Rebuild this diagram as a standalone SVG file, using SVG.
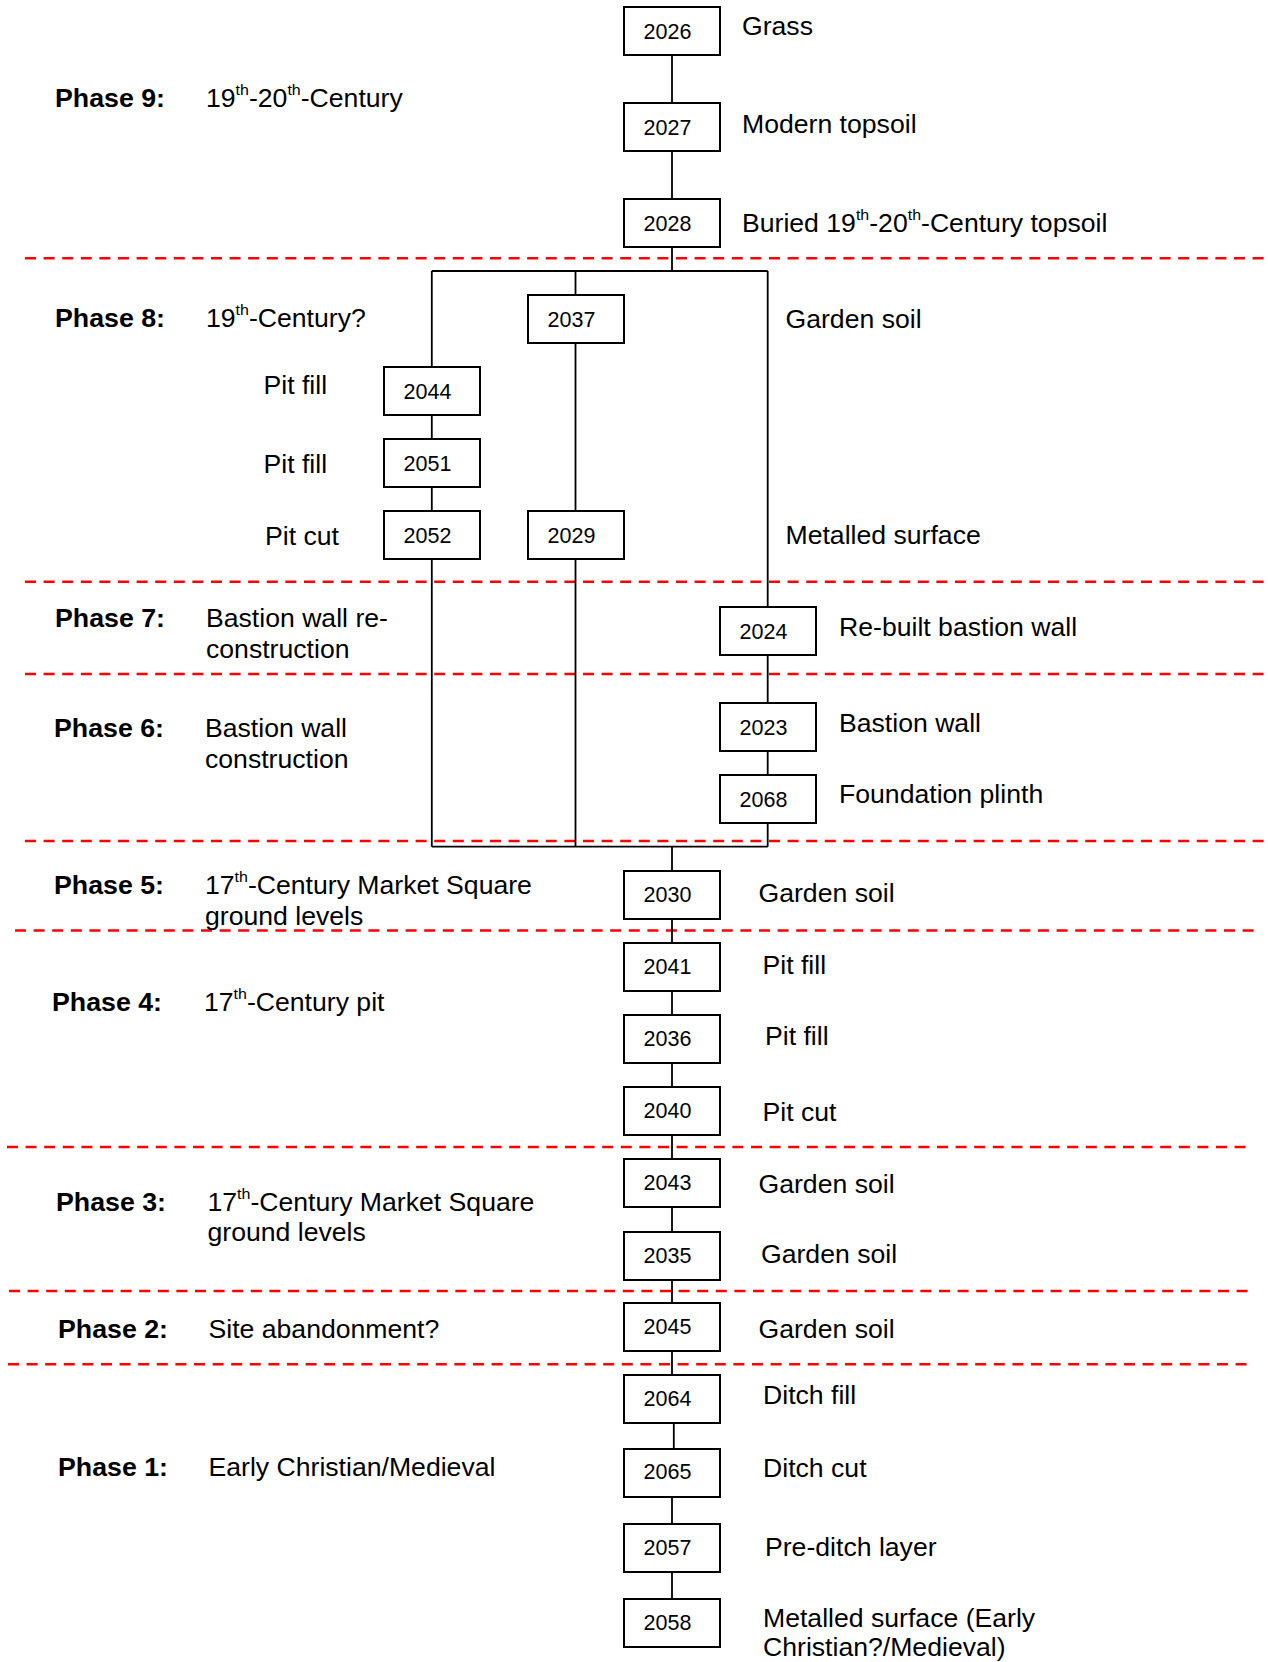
<svg xmlns="http://www.w3.org/2000/svg" width="1268" height="1662" viewBox="0 0 1268 1662">
<style>
text{font-family:"Liberation Sans",Arial,sans-serif;fill:#000}
.lbl{font-size:25px}
.ph{font-size:25px;font-weight:bold}
.num{font-size:21.5px;text-anchor:middle}
.sup{font-size:15px}
.box{fill:#fff;stroke:#000;stroke-width:2}
.con{stroke:#000;stroke-width:1.8;fill:none}
.dash{stroke:#ff0000;stroke-width:2.6;stroke-dasharray:11 7.6;fill:none}
</style>
<g id="phase-lines">
<line class="dash" x1="25" y1="258.3" x2="1268" y2="258.3"/>
<line class="dash" x1="25" y1="581.7" x2="1268" y2="581.7"/>
<line class="dash" x1="25" y1="674" x2="1268" y2="674"/>
<line class="dash" x1="25" y1="841" x2="1268" y2="841"/>
<line class="dash" x1="15" y1="930.5" x2="1260" y2="930.5"/>
<line class="dash" x1="7" y1="1147" x2="1251" y2="1147"/>
<line class="dash" x1="9" y1="1291" x2="1251" y2="1291"/>
<line class="dash" x1="8" y1="1364.3" x2="1251" y2="1364.3"/>
</g>
<g id="connectors">
<path class="con" d="M672 54.7V103M672 151V199M672 247V271M431.8 271H767.7M431.8 271V367M431.8 415V439M431.8 487V511M431.8 559V846.7M575.5 271V295M575.5 343V511M575.5 559V846.7M767.7 271V607M767.7 655V703M767.7 751V775M767.7 823V846.7M431.8 846.7H767.7M672 846.7V871M672 919V943M672 991V1015M672 1063V1087M672 1135V1159M672 1207V1232M672 1280V1303M672 1351V1375M673.8 1423V1449M672 1497V1524M672 1572V1599"/>
</g>
<g id="phase-labels">
<text class="ph" transform="translate(55,106.7) scale(1.07,1)">Phase 9:</text>
<text class="lbl" transform="translate(206,106.7) scale(1.065,1)">19<tspan class="sup" dy="-12">th</tspan><tspan dy="12">-20</tspan><tspan class="sup" dy="-12">th</tspan><tspan dy="12">-Century</tspan></text>
<text class="ph" transform="translate(55,326.7) scale(1.07,1)">Phase 8:</text>
<text class="lbl" transform="translate(206,326.7) scale(1.065,1)">19<tspan class="sup" dy="-12">th</tspan><tspan dy="12">-Century?</tspan></text>
<text class="ph" transform="translate(55,626.7) scale(1.07,1)">Phase 7:</text>
<text class="lbl" transform="translate(206,626.7) scale(1.065,1)">Bastion wall re-</text>
<text class="lbl" transform="translate(206,657.7) scale(1.065,1)">construction</text>
<text class="ph" transform="translate(54,736.7) scale(1.07,1)">Phase 6:</text>
<text class="lbl" transform="translate(205,736.7) scale(1.065,1)">Bastion wall</text>
<text class="lbl" transform="translate(205,767.7) scale(1.065,1)">construction</text>
<text class="ph" transform="translate(54,894.3) scale(1.07,1)">Phase 5:</text>
<text class="lbl" transform="translate(205,894.3) scale(1.065,1)">17<tspan class="sup" dy="-12">th</tspan><tspan dy="12">-Century Market Square</tspan></text>
<text class="lbl" transform="translate(205,925) scale(1.065,1)">ground levels</text>
<text class="ph" transform="translate(52,1010.7) scale(1.07,1)">Phase 4:</text>
<text class="lbl" transform="translate(204,1010.7) scale(1.065,1)">17<tspan class="sup" dy="-12">th</tspan><tspan dy="12">-Century pit</tspan></text>
<text class="ph" transform="translate(56,1210.7) scale(1.07,1)">Phase 3:</text>
<text class="lbl" transform="translate(207.5,1210.7) scale(1.065,1)">17<tspan class="sup" dy="-12">th</tspan><tspan dy="12">-Century Market Square</tspan></text>
<text class="lbl" transform="translate(207.5,1241) scale(1.065,1)">ground levels</text>
<text class="ph" transform="translate(58,1338.3) scale(1.07,1)">Phase 2:</text>
<text class="lbl" transform="translate(208.5,1338.3) scale(1.065,1)">Site abandonment?</text>
<text class="ph" transform="translate(58,1476) scale(1.07,1)">Phase 1:</text>
<text class="lbl" transform="translate(208.5,1476) scale(1.065,1)">Early Christian/Medieval</text>
</g>
<g id="node-2026"><rect class="box" x="624" y="7" width="96" height="48"/><text class="num" x="667.5" y="38.5">2026</text><text class="lbl" transform="translate(742,35) scale(1.065,1)">Grass</text></g>
<g id="node-2027"><rect class="box" x="624" y="103" width="96" height="48"/><text class="num" x="667.5" y="134.5">2027</text><text class="lbl" transform="translate(742,132.7) scale(1.065,1)">Modern topsoil</text></g>
<g id="node-2028"><rect class="box" x="624" y="199" width="96" height="48"/><text class="num" x="667.5" y="230.5">2028</text><text class="lbl" transform="translate(742,231.7) scale(1.065,1)">Buried 19<tspan class="sup" dy="-12">th</tspan><tspan dy="12">-20</tspan><tspan class="sup" dy="-12">th</tspan><tspan dy="12">-Century topsoil</tspan></text></g>
<g id="node-2037"><rect class="box" x="528" y="295" width="96" height="48"/><text class="num" x="571.5" y="326.5">2037</text><text class="lbl" transform="translate(785.5,328.3) scale(1.065,1)">Garden soil</text></g>
<g id="node-2044"><rect class="box" x="384" y="367" width="96" height="48"/><text class="num" x="427.5" y="398.5">2044</text><text class="lbl" transform="translate(263.5,394) scale(1.065,1)">Pit fill</text></g>
<g id="node-2051"><rect class="box" x="384" y="439" width="96" height="48"/><text class="num" x="427.5" y="470.5">2051</text><text class="lbl" transform="translate(263.5,472.7) scale(1.065,1)">Pit fill</text></g>
<g id="node-2052"><rect class="box" x="384" y="511" width="96" height="48"/><text class="num" x="427.5" y="542.5">2052</text><text class="lbl" transform="translate(265,545) scale(1.065,1)">Pit cut</text></g>
<g id="node-2029"><rect class="box" x="528" y="511" width="96" height="48"/><text class="num" x="571.5" y="542.5">2029</text><text class="lbl" transform="translate(785.5,544) scale(1.065,1)">Metalled surface</text></g>
<g id="node-2024"><rect class="box" x="720" y="607" width="96" height="48"/><text class="num" x="763.5" y="638.5">2024</text><text class="lbl" transform="translate(839,636) scale(1.065,1)">Re-built bastion wall</text></g>
<g id="node-2023"><rect class="box" x="720" y="703" width="96" height="48"/><text class="num" x="763.5" y="734.5">2023</text><text class="lbl" transform="translate(839,732.3) scale(1.065,1)">Bastion wall</text></g>
<g id="node-2068"><rect class="box" x="720" y="775" width="96" height="48"/><text class="num" x="763.5" y="806.5">2068</text><text class="lbl" transform="translate(839,803.3) scale(1.065,1)">Foundation plinth</text></g>
<g id="node-2030"><rect class="box" x="624" y="871" width="96" height="48"/><text class="num" x="667.5" y="902">2030</text><text class="lbl" transform="translate(758.5,901.7) scale(1.065,1)">Garden soil</text></g>
<g id="node-2041"><rect class="box" x="624" y="943" width="96" height="48"/><text class="num" x="667.5" y="974">2041</text><text class="lbl" transform="translate(762.5,974.3) scale(1.065,1)">Pit fill</text></g>
<g id="node-2036"><rect class="box" x="624" y="1015" width="96" height="48"/><text class="num" x="667.5" y="1046">2036</text><text class="lbl" transform="translate(765,1045) scale(1.065,1)">Pit fill</text></g>
<g id="node-2040"><rect class="box" x="624" y="1087" width="96" height="48"/><text class="num" x="667.5" y="1118">2040</text><text class="lbl" transform="translate(762.5,1121) scale(1.065,1)">Pit cut</text></g>
<g id="node-2043"><rect class="box" x="624" y="1159" width="96" height="48"/><text class="num" x="667.5" y="1190">2043</text><text class="lbl" transform="translate(758.5,1192.7) scale(1.065,1)">Garden soil</text></g>
<g id="node-2035"><rect class="box" x="624" y="1232" width="96" height="48"/><text class="num" x="667.5" y="1262.5">2035</text><text class="lbl" transform="translate(761,1263.3) scale(1.065,1)">Garden soil</text></g>
<g id="node-2045"><rect class="box" x="624" y="1303" width="96" height="48"/><text class="num" x="667.5" y="1334">2045</text><text class="lbl" transform="translate(758.5,1338.3) scale(1.065,1)">Garden soil</text></g>
<g id="node-2064"><rect class="box" x="624" y="1375" width="96" height="48"/><text class="num" x="667.5" y="1406">2064</text><text class="lbl" transform="translate(763,1404.3) scale(1.065,1)">Ditch fill</text></g>
<g id="node-2065"><rect class="box" x="624" y="1449" width="96" height="48"/><text class="num" x="667.5" y="1478.5">2065</text><text class="lbl" transform="translate(763,1476.7) scale(1.065,1)">Ditch cut</text></g>
<g id="node-2057"><rect class="box" x="624" y="1524" width="96" height="48"/><text class="num" x="667.5" y="1555">2057</text><text class="lbl" transform="translate(765,1556) scale(1.065,1)">Pre-ditch layer</text></g>
<g id="node-2058"><rect class="box" x="624" y="1599" width="96" height="48"/><text class="num" x="667.5" y="1629.5">2058</text><text class="lbl" transform="translate(763,1626.7) scale(1.065,1)">Metalled surface (Early</text><text class="lbl" transform="translate(763,1656) scale(1.065,1)">Christian?/Medieval)</text></g>
</svg>
